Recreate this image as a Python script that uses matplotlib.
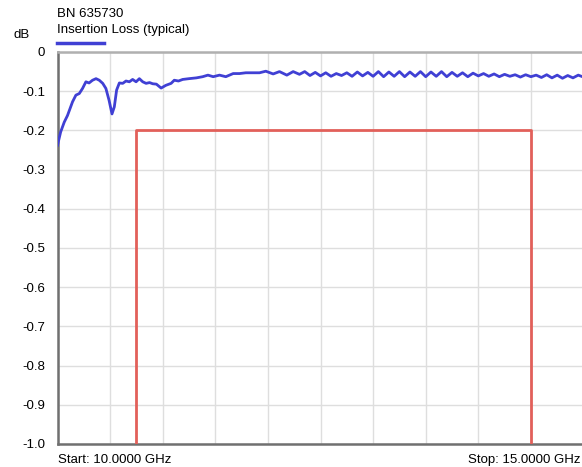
import matplotlib.pyplot as plt

plt.rcParams['font.family'] = ['Liberation Sans', 'DejaVu Sans']

# measured trace, GHz / dB
freq = [10.000, 10.030, 10.064, 10.095, 10.143, 10.175, 10.207, 10.238, 10.270, 10.300,
        10.333, 10.366, 10.397, 10.430, 10.460, 10.490, 10.518, 10.540, 10.562, 10.588,
        10.620, 10.651, 10.683, 10.714, 10.747, 10.778, 10.810, 10.842, 10.875, 10.905,
        10.940, 10.985, 11.030, 11.080, 11.110, 11.150, 11.190, 11.250, 11.320, 11.380,
        11.430, 11.480, 11.540, 11.600, 11.670, 11.730, 11.790, 11.860, 11.920, 11.980,
        12.050, 12.110, 12.180, 12.240,
        12.30, 12.35, 12.40, 12.45, 12.50, 12.55, 12.60, 12.65, 12.70, 12.75,
        12.80, 12.85, 12.90, 12.95, 13.00, 13.05, 13.10, 13.15, 13.20, 13.25,
        13.30, 13.35, 13.40, 13.45, 13.50, 13.55, 13.60, 13.65, 13.70, 13.75,
        13.80, 13.85, 13.90, 13.95, 14.00, 14.05, 14.10, 14.15, 14.20, 14.25,
        14.30, 14.35, 14.40, 14.45, 14.50, 14.55, 14.60, 14.65, 14.70, 14.75,
        14.80, 14.85, 14.90, 14.95, 15.00]
loss = [-0.238, -0.204, -0.179, -0.162, -0.127, -0.110, -0.106, -0.093, -0.076, -0.079,
        -0.072, -0.068, -0.072, -0.080, -0.093, -0.123, -0.158, -0.140, -0.097, -0.079,
        -0.080, -0.074, -0.076, -0.070, -0.076, -0.068, -0.076, -0.080, -0.078, -0.081,
        -0.082, -0.092, -0.085, -0.080, -0.072, -0.074, -0.070, -0.068, -0.066, -0.063,
        -0.059, -0.063, -0.059, -0.063, -0.055, -0.055, -0.053, -0.053, -0.053, -0.049,
        -0.056, -0.050, -0.059, -0.050,
        -0.057, -0.050, -0.060, -0.052, -0.061, -0.053, -0.062, -0.055, -0.060, -0.053,
        -0.062, -0.051, -0.061, -0.052, -0.062, -0.050, -0.063, -0.051, -0.062, -0.050,
        -0.063, -0.051, -0.062, -0.050, -0.063, -0.051, -0.062, -0.050, -0.063, -0.052,
        -0.062, -0.053, -0.063, -0.054, -0.061, -0.055, -0.062, -0.056, -0.063, -0.057,
        -0.062, -0.058, -0.064, -0.058, -0.063, -0.059, -0.065, -0.058, -0.066, -0.059,
        -0.067, -0.060, -0.066, -0.059, -0.064]

# spec mask
mask_f = [10.75, 10.75, 14.5, 14.5]
mask_db = [-1.0, -0.2, -0.2, -1.0]

yticks = [0, -0.1, -0.2, -0.3, -0.4, -0.5, -0.6, -0.7, -0.8, -0.9, -1.0]
ylabels = ['0', '-0.1', '-0.2', '-0.3', '-0.4', '-0.5', '-0.6', '-0.7', '-0.8', '-0.9', '-1.0']
xgrid = [10.0, 10.5, 11.0, 11.5, 12.0, 12.5, 13.0, 13.5, 14.0, 14.5, 15.0]

blue = '#4040d4'

fig = plt.figure(figsize=(5.82, 4.67), dpi=100)
ax = fig.add_axes([57.5 / 582, 1 - 444 / 467, (583.5 - 57.5) / 582, (444 - 52) / 467])

ax.plot(mask_f, mask_db, color='#e2605a', lw=2, zorder=3)
ax.plot(freq, loss, color=blue, lw=2, solid_joinstyle='round', zorder=4)

ax.set_xlim(10, 15)
ax.set_ylim(-1.0, 0)
ax.set_xticks(xgrid)
ax.set_xticklabels([])
ax.set_yticks(yticks)
ax.set_yticklabels(ylabels, fontsize=9.5)
ax.tick_params(length=0, pad=9)
ax.grid(True, color='#dedede', lw=1)
ax.set_axisbelow(True)

for s in ['left', 'bottom']:
    ax.spines[s].set_color('#707070')
    ax.spines[s].set_linewidth(1.8)
for s in ['top', 'right']:
    ax.spines[s].set_color('#b0b0b0')
    ax.spines[s].set_linewidth(1.8)

fig.text(13 / 582, 1 - 35 / 467, 'dB', fontsize=9.5, va='center')
fig.text(57 / 582, 1 - 14 / 467, 'BN 635730', fontsize=9.5, va='center')
fig.text(57 / 582, 1 - 30 / 467, 'Insertion Loss (typical)', fontsize=9.5, va='center')
fig.add_artist(plt.Line2D([57 / 582, 104 / 582], [1 - 43 / 467, 1 - 43 / 467],
                          color=blue, lw=2.5))
fig.text(58 / 582, 1 - 460 / 467, 'Start: 10.0000 GHz', fontsize=9.5, va='center')
fig.text(581 / 582, 1 - 460 / 467, 'Stop: 15.0000 GHz', fontsize=9.5, va='center', ha='right')

fig.savefig('out.png', dpi=100)
